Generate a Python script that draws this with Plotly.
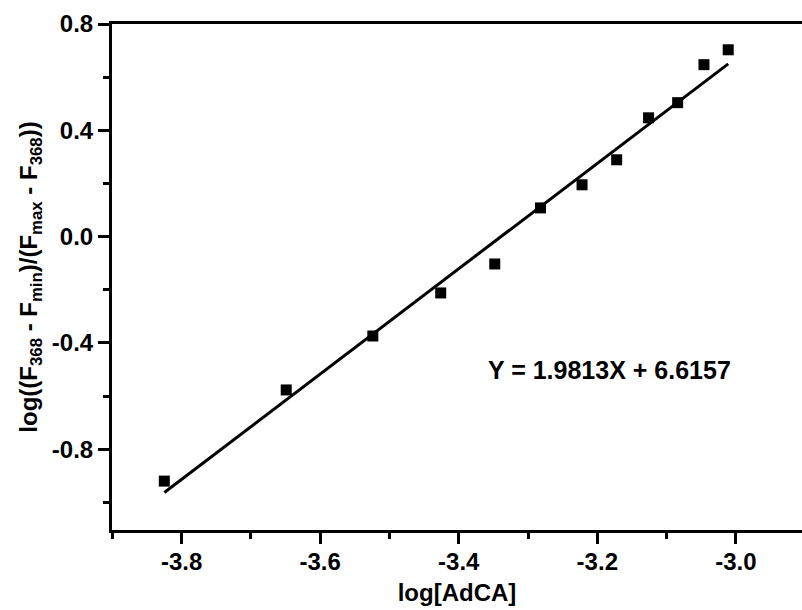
import plotly.graph_objects as go

# Data
log_adca = [-3.825, -3.649, -3.524, -3.426, -3.348, -3.282, -3.222, -3.172, -3.126, -3.084, -3.046, -3.011]
log_ratio = [-0.920, -0.577, -0.374, -0.212, -0.103, 0.108, 0.195, 0.289, 0.447, 0.504, 0.647, 0.703]

# Linear fit endpoints (Y = 1.9813X + 6.6157)
fit_x = [-3.825, -3.011]
fit_y = [-0.963, 0.650]
fit_label = "Y = 1.9813X + 6.6157"

x_ticks = [-3.8, -3.6, -3.4, -3.2, -3.0]
x_ticklabels = ["-3.8", "-3.6", "-3.4", "-3.2", "-3.0"]
y_ticks = [-0.8, -0.4, 0.0, 0.4, 0.8]
y_ticklabels = ["-0.8", "-0.4", "0.0", "0.4", "0.8"]

FONT = "Arial, Liberation Sans, sans-serif"
FS = 24

fig = go.Figure()
fig.add_trace(go.Scatter(
    x=fit_x, y=fit_y, mode="lines",
    line=dict(color="black", width=3),
    showlegend=False, hoverinfo="skip"))
fig.add_trace(go.Scatter(
    x=log_adca, y=log_ratio, mode="markers",
    marker=dict(symbol="square", size=11, color="black", line=dict(width=0)),
    showlegend=False))

fig.add_annotation(
    x=-3.182, y=-0.502, xref="x", yref="y",
    text=fit_label, showarrow=False,
    font=dict(family=FONT, size=25, color="black", weight="bold"))

fig.update_xaxes(
    range=[-3.9005, -2.9045],
    tickmode="array", tickvals=x_ticks, ticktext=x_ticklabels,
    ticks="outside", ticklen=11, tickwidth=3, tickcolor="black",
    minor=dict(dtick=0.1, tick0=-3.9, ticks="outside", ticklen=6, tickwidth=3, tickcolor="black"),
    showline=True, linewidth=3, linecolor="black", mirror=True,
    showgrid=False, zeroline=False,
    ticklabelstandoff=-3,
    tickfont=dict(family=FONT, size=FS, color="black", weight="bold"),
    title=dict(text="log[AdCA]", font=dict(family=FONT, size=FS, color="black", weight="bold"), standoff=11),
)
fig.update_yaxes(
    range=[-1.104, 0.8],
    tickmode="array", tickvals=y_ticks, ticktext=y_ticklabels,
    ticks="outside", ticklen=11, tickwidth=3, tickcolor="black",
    minor=dict(dtick=0.2, tick0=-1.0, ticks="outside", ticklen=6, tickwidth=3, tickcolor="black"),
    showline=True, linewidth=3, linecolor="black", mirror=False,
    showgrid=False, zeroline=False,
    tickfont=dict(family=FONT, size=FS, color="black", weight="bold"),
    title=dict(text="log((F<sub>368</sub> - F<sub>min</sub>)/(F<sub>max</sub> - F<sub>368</sub>))",
               font=dict(family=FONT, size=FS, color="black", weight="bold"), standoff=8),
)

fig.update_layout(
    width=802, height=610,
    margin=dict(l=112, r=0, t=24, b=80),
    paper_bgcolor="white", plot_bgcolor="white",
)

fig.write_html("out.html")
